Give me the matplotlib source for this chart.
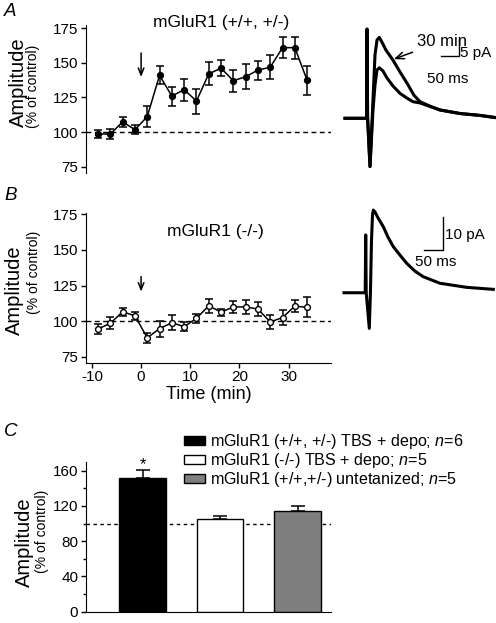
import matplotlib
matplotlib.use("Agg")
import matplotlib.pyplot as plt
import numpy as np

plt.rcParams['font.family'] = ['Liberation Sans', 'DejaVu Sans']
plt.rcParams['mathtext.fontset'] = 'custom'
plt.rcParams['mathtext.rm'] = 'Liberation Sans'
plt.rcParams['mathtext.it'] = 'Liberation Sans:italic'
plt.rcParams['axes.unicode_minus'] = False

# time course (min)
time_min = [-8.75 + 2.5 * i for i in range(18)]

# panel A: mGluR1 (+/+, +/-)
amp_wt = [98.6, 98.6, 107.4, 101.7, 111.2, 141.0, 126.0, 130.7, 122.4,
          142.1, 146.2, 137.1, 140.0, 144.8, 146.9, 161.0, 161.0, 137.4]
err_wt = [3.0, 3.5, 3.7, 3.3, 7.5, 6.5, 6.8, 8.0, 9.0,
          8.2, 5.7, 7.9, 8.9, 6.9, 8.8, 7.5, 7.9, 10.7]

# panel B: mGluR1 (-/-)
amp_ko = [94.6, 98.6, 106.6, 103.8, 88.4, 94.8, 99.0, 96.2, 102.0,
          110.8, 106.4, 110.0, 110.0, 108.5, 99.5, 102.6, 110.6, 109.7]
err_ko = [3.3, 4.1, 2.6, 3.0, 3.3, 5.7, 5.3, 3.0, 3.4,
          5.0, 2.4, 4.5, 5.0, 4.7, 4.8, 5.0, 4.0, 7.0]

# example EPSC traces (ms, pA)
trA_t_ctrl = [-62.5, -1.4, 0.0, 1.7, 8.5, 17.0, 22.7, 28.4, 34.9, 45.4, 56.8, 73.8,
              93.7, 113.6, 130.6, 150.5, 178.9, 207.3, 264.1, 320.9, 363.5]
trA_a_ctrl = [0.0, 0.0, 27.9, 0.1, -15.1, 2.6, 10.4, 15.1, 15.8, 14.8, 12.6, 10.1,
              7.8, 6.3, 5.2, 4.8, 3.7, 2.6, 1.5, 0.9, 0.25]
trA_t_30 = [-62.5, -1.4, 0.0, 1.7, 8.5, 17.0, 22.7, 28.4, 34.9, 42.6, 54.0, 73.8,
            93.7, 113.6, 133.5, 150.5, 178.9, 207.3, 264.1, 320.9, 363.5]
trA_a_30 = [0.0, 0.0, 27.9, 0.1, -15.1, 5.7, 19.8, 24.5, 25.3, 23.8, 21.3, 18.2,
            14.5, 11.0, 7.2, 5.2, 3.8, 2.6, 1.5, 0.9, 0.25]

trB_t = [-56.2, -1.3, 0.0, 1.3, 9.3, 12.4, 15.0, 17.6, 19.7, 24.1, 31.9, 45.6,
         57.8, 71.5, 88.8, 106.2, 127.7, 149.2, 192.4, 261.6, 330.5]
trB_a = [0.0, 0.0, 17.7, 0.0, -10.9, 0.8, 16.1, 23.8, 25.3, 24.7, 22.9, 20.2,
         17.0, 14.1, 11.5, 9.0, 6.6, 4.9, 2.9, 1.65, 1.04]

# panel C: summary
groups = ['mGluR1 (+/+, +/-) TBS + depo; $n$=6',
          'mGluR1 (-/-) TBS + depo; $n$=5',
          'mGluR1 (+/+,+/-) untetanized; $n$=5']
bar_vals = [152.1, 105.2, 114.3]
bar_errs = [8.7, 3.0, 6.0]
bar_colors = ['black', 'white', '#7f7f7f']

W, H = 496, 623


def fig_rect(x0, y0, x1, y1):
    # pixel box (top-left origin) -> figure fraction
    return [x0 / W, 1 - y1 / H, (x1 - x0) / W, (y1 - y0) / H]


def style_axis(ax):
    for s in ['top', 'right']:
        ax.spines[s].set_visible(False)
    ax.tick_params(direction='out', length=3.5, width=1, labelsize=11, pad=2)


arrow_kw = dict(arrowstyle='->,head_length=0.5,head_width=0.2', color='black',
                lw=1.1, shrinkA=0, shrinkB=0)

fig = plt.figure(figsize=(W / 100, H / 100), dpi=100)

# ---- panel A
axA = fig.add_axes(fig_rect(86, 25, 331, 173.3))
axA.errorbar(time_min, amp_wt, yerr=err_wt, fmt='-o', color='black', ms=4.2,
             lw=1.1, elinewidth=1.1, capsize=2.8, capthick=1.1)
axA.axhline(100, color='black', lw=1, ls=(0, (3.5, 2.5)), zorder=0)
axA.set_xlim(-11.2, 38.6)
axA.set_ylim(70.2, 177.4)
axA.set_yticks([75, 100, 125, 150, 175])
style_axis(axA)
axA.spines['bottom'].set_visible(False)
axA.set_xticks([])
axA.annotate('', xy=(0, 139.8), xytext=(0, 157.2), arrowprops=arrow_kw)
fig.text(221 / W, 1 - 23 / H, 'mGluR1 (+/+, +/-)', ha='center', va='center', fontsize=12.5)

# ---- panel B
axB = fig.add_axes(fig_rect(86, 212.6, 331, 362.7))
axB.errorbar(time_min, amp_ko, yerr=err_ko, fmt='-o', color='black', mfc='white',
             mec='black', ms=4.2, lw=1.1, elinewidth=1.1, capsize=2.8, capthick=1.1)
axB.axhline(100, color='black', lw=1, ls=(0, (3.5, 2.5)), zorder=0)
axB.set_xlim(-11.2, 38.6)
axB.set_ylim(71, 176)
axB.set_yticks([75, 100, 125, 150, 175])
axB.set_xticks([-10, 0, 10, 20, 30])
style_axis(axB)
axB.annotate('', xy=(0, 120.7), xytext=(0, 131.2), arrowprops=arrow_kw)
axB.set_xlabel('Time (min)', fontsize=13, labelpad=1)
fig.text(215 / W, 1 - 231.7 / H, 'mGluR1 (-/-)', ha='center', va='center', fontsize=12.5)

# y labels
for x1, x2, y1, y2 in [(18, 33, 82.5, 86.7), (14, 34, 290, 272.5), (24, 41.7, 542.5, 531)]:
    fig.text(x1 / W, 1 - y1 / H, 'Amplitude', rotation=90, ha='center', va='center', fontsize=14.5)
    fig.text(x2 / W, 1 - y2 / H, '(% of control)', rotation=90, ha='center', va='center', fontsize=10)

# panel letters
for lab, y in [('A', 12), ('B', 196), ('C', 432)]:
    fig.text(4 / W, 1 - y / H, lab, style='italic', fontsize=13.5, ha='left', va='center')

# ---- traces A
axTA = fig.add_axes(fig_rect(340, 0, 496, 180))
axTA.plot(trA_t_ctrl, trA_a_ctrl, color='black', lw=2.2)
axTA.plot(trA_t_30, trA_a_30, color='black', lw=2.2)
axTA.set_xlim(-76.7, 366.4)
axTA.set_ylim(-19.3, 37.0)
axTA.set_axis_off()
axTA.plot([210.5, 260.5, 260.5], [19.5, 19.5, 24.5], color='black', lw=1)
axTA.text(264, 20.4, '5 pA', fontsize=11, va='center', ha='left')
axTA.text(230, 12.3, '50 ms', fontsize=11, va='center', ha='center')
axTA.annotate('30 min', xy=(76, 18.5), xytext=(141, 24.0), fontsize=12, va='center',
              ha='left', arrowprops=dict(arrow_kw, shrinkA=1))

# ---- trace B
axTB = fig.add_axes(fig_rect(340, 180, 496, 330))
axTB.plot(trB_t, trB_a, color='black', lw=2.2)
axTB.set_xlim(-66.6, 337.5)
axTB.set_ylim(-11.4, 34.5)
axTB.set_axis_off()
axTB.plot([151.2, 201.2, 201.2], [13.1, 13.1, 23.1], color='black', lw=1)
axTB.text(205, 17.6, '10 pA', fontsize=11, va='center', ha='left')
axTB.text(180, 9.4, '50 ms', fontsize=11, va='center', ha='center')

# ---- panel C
axC = fig.add_axes(fig_rect(86, 461.7, 331, 611.7))
xpos = np.arange(len(bar_vals))
axC.axhline(100, color='black', lw=1, ls=(0, (2.5, 2.5)), zorder=0)
bars = axC.bar(xpos, bar_vals, width=0.6, color=bar_colors, edgecolor='black',
               lw=1, zorder=2)
axC.errorbar(xpos, bar_vals, yerr=[[0, 0, 0], bar_errs], fmt='none', ecolor='black',
             elinewidth=1.1, capsize=5, capthick=1.1, zorder=1)
axC.text(0, 167, '*', ha='center', va='center', fontsize=12)
axC.set_xlim(-0.73, 2.43)
axC.set_ylim(0, 170.2)
axC.set_yticks([0, 40, 80, 120, 160])
axC.set_yticks([20, 60, 100, 140], minor=True)
axC.set_xticks([])
style_axis(axC)
axC.tick_params(which='minor', direction='out', length=2.5, width=1)
axC.legend(bars, groups, loc='upper left', bbox_to_anchor=(184 / W, 1 - 432 / H),
           bbox_transform=fig.transFigure, frameon=False, fontsize=11.6,
           handlelength=1.32, handleheight=0.45, handletextpad=0.3,
           labelspacing=0.0, borderpad=0, borderaxespad=0)

fig.savefig('out.png', dpi=100)
